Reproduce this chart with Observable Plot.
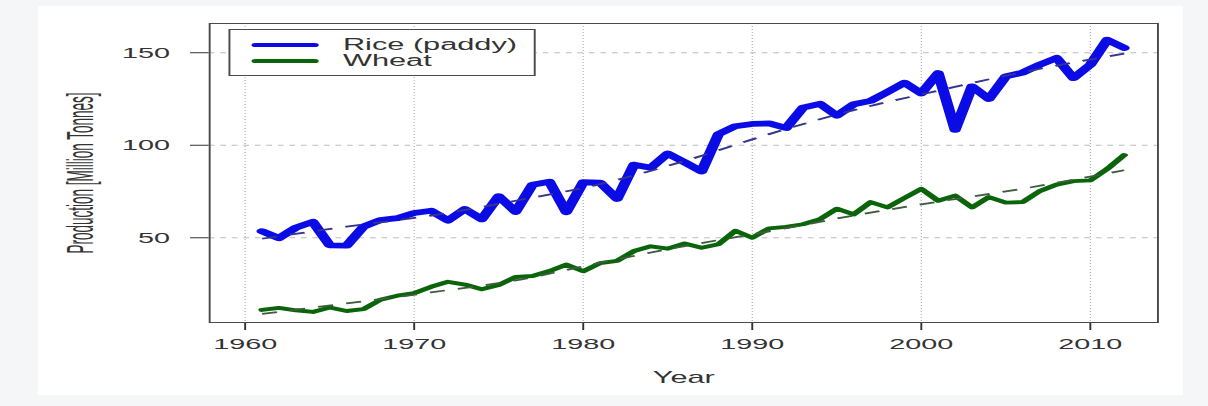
<!DOCTYPE html>
<html>
<head>
<meta charset="utf-8">
<script src="https://cdn.jsdelivr.net/npm/d3@7"></script>
<script src="https://cdn.jsdelivr.net/npm/@observablehq/plot@0.6"></script>
<style>
  html, body { margin: 0; padding: 0; width: 1208px; height: 406px; overflow: hidden; background: #f5f6f8; font-family: "Liberation Sans", Arial, sans-serif; }
  #panel { position: absolute; left: 38px; top: 6px; width: 1145px; height: 389px; background: #ffffff; }
  #wrap { position: absolute; left: 0; top: 0; width: 630px; height: 406px; transform: scaleX(1.92); transform-origin: 0 0; }
  #chart { position: absolute; left: 0; top: 0; }
  .lg-box { position: absolute; left: 118.9px; top: 29px; width: 159.7px; height: 47px; box-sizing: border-box; border: 1px solid #4a4a4a; background: #ffffff; }
  .lg-line { position: absolute; left: 131.3px; width: 34.3px; height: 4px; border-radius: 2px; }
  .lg-text { position: absolute; left: 178.6px; font-size: 16px; line-height: 18px; color: #333333; white-space: nowrap; }
</style>
</head>
<body>
<div id="panel"></div>
<div id="wrap">
  <div id="chart"></div>
  <div id="legend"></div>
</div>
<script>
// ---- data (India, million tonnes) ----
const years = [1961, 1962, 1963, 1964, 1965, 1966, 1967, 1968, 1969, 1970,
               1971, 1972, 1973, 1974, 1975, 1976, 1977, 1978, 1979, 1980,
               1981, 1982, 1983, 1984, 1985, 1986, 1987, 1988, 1989, 1990,
               1991, 1992, 1993, 1994, 1995, 1996, 1997, 1998, 1999, 2000,
               2001, 2002, 2003, 2004, 2005, 2006, 2007, 2008, 2009, 2010,
               2011, 2012];
const rice = [53.5, 49.8, 55.5, 58.6, 45.9, 45.7, 56.0, 59.6, 60.6, 63.4,
              64.6, 59.3, 65.5, 60.0, 72.5, 64.0, 78.7, 80.3, 63.8, 80.0,
              79.8, 71.0, 89.5, 87.8, 95.5, 90.8, 85.8, 106.0, 110.3, 111.5,
              111.8, 109.3, 120.3, 122.4, 116.0, 122.2, 124.0, 128.8, 133.8, 128.0,
              139.0, 108.3, 131.8, 125.0, 137.2, 139.3, 143.5, 147.2, 136.3, 143.5,
              157.0, 152.6];
const wheat = [11.0, 12.1, 10.8, 9.9, 12.3, 10.4, 11.4, 16.5, 18.7, 20.1,
               23.5, 26.2, 24.7, 22.2, 24.5, 28.8, 29.3, 32.0, 35.5, 31.9,
               36.3, 37.5, 42.8, 45.4, 44.1, 46.9, 44.6, 46.5, 53.8, 50.0,
               55.1, 55.9, 57.3, 60.0, 65.7, 62.6, 69.3, 66.4, 71.5, 76.4,
               70.0, 72.8, 66.4, 72.0, 69.0, 69.3, 75.2, 78.7, 80.6, 81.0,
               87.2, 94.7];

// dashed trend lines
const trendYears = [1961, 1966, 1971, 1976, 1981, 1986, 1991, 1996, 2001, 2006, 2012];
const riceTrend  = [49.5, 56.0, 62.0, 70.0, 79.0, 91.5, 106.0, 119.0, 129.5, 139.5, 149.5];
const wheatTrend = [8.9, 14.5, 20.5, 27.0, 36.5, 45.5, 53.5, 62.0, 69.5, 76.5, 86.5];

const seriesNames = ["Rice (paddy)", "Wheat"];
const seriesColors = ["#0b0be6", "#0a650a"];
const trendColors = ["#35358e", "#3e5c3e"];
const xTicks = [1960, 1970, 1980, 1990, 2000, 2010];
const yTicks = [50, 100, 150];
const xTitle = "Year";
const yTitle = "Production [Million Tonnes]";

const riceRows = years.map((yr, i) => ({year: yr, value: rice[i]}));
const wheatRows = years.map((yr, i) => ({year: yr, value: wheat[i]}));
const riceTrendRows = trendYears.map((yr, i) => ({year: yr, value: riceTrend[i]}));
const wheatTrendRows = trendYears.map((yr, i) => ({year: yr, value: wheatTrend[i]}));

const chart = Plot.plot({
  width: 630,
  height: 406,
  marginLeft: 108.7,
  marginRight: 27.4,
  marginTop: 23,
  marginBottom: 84,
  style: {background: "transparent", color: "#333333", fontFamily: "'Liberation Sans', Arial, sans-serif", fontSize: "15px", overflow: "visible"},
  x: {domain: [1957.9, 2014.0], ticks: xTicks, tickFormat: d => String(d), tickSize: 8, tickPadding: 8, label: null},
  y: {domain: [4.2, 165.8], ticks: yTicks, tickFormat: d => String(d), tickSize: 9.7, tickPadding: 11, label: null},
  marks: [
    Plot.ruleX(xTicks, {x: d => d, stroke: "#b0b0b0", strokeWidth: 0.6, strokeDasharray: "1,2"}),
    Plot.ruleY(yTicks, {y: d => d, stroke: "#bdbdbd", strokeWidth: 1, strokeDasharray: "3,3"}),
    Plot.frame({stroke: "#4a4a4a", strokeWidth: 1}),
    Plot.line(riceRows, {x: "year", y: "value", stroke: seriesColors[0], strokeWidth: 5.8}),
    Plot.line(wheatRows, {x: "year", y: "value", stroke: seriesColors[1], strokeWidth: 3.9}),
    Plot.line(riceTrendRows, {x: "year", y: "value", curve: "monotone-x", stroke: trendColors[0], strokeWidth: 1.8, strokeDasharray: "8,7", strokeLinecap: "butt"}),
    Plot.line(wheatTrendRows, {x: "year", y: "value", curve: "monotone-x", stroke: trendColors[1], strokeWidth: 1.8, strokeDasharray: "8,7", strokeLinecap: "butt"}),
    Plot.text([xTitle], {text: d => d, frameAnchor: "bottom", dy: 55, fontSize: 16, fill: "#333333", textAnchor: "middle", lineAnchor: "middle"}),
    Plot.text([yTitle], {text: d => d, frameAnchor: "left", dx: -67, rotate: -90, fontSize: 13.5, fill: "#333333", textAnchor: "middle", lineAnchor: "middle"})
  ]
});
document.getElementById("chart").appendChild(chart);

// widen the rotated y title glyphs (the reference's title is taller-looking)
chart.querySelectorAll("text").forEach(t => {
  if (t.textContent === yTitle) {
    const tr = t.getAttribute("transform") || "";
    if (tr.includes("rotate")) t.setAttribute("transform", tr.replace("rotate", "scale(1.4,1) rotate"));
  }
});

// legend
const legend = document.getElementById("legend");
const box = document.createElement("div");
box.className = "lg-box";
legend.appendChild(box);
const rowY = [45, 61];
seriesNames.forEach((name, i) => {
  const ln = document.createElement("div");
  ln.className = "lg-line";
  ln.style.top = (rowY[i] - 2) + "px";
  ln.style.background = seriesColors[i];
  legend.appendChild(ln);
  const tx = document.createElement("div");
  tx.className = "lg-text";
  tx.style.top = (rowY[i] - 9) + "px";
  tx.textContent = name;
  legend.appendChild(tx);
});
</script>
</body>
</html>
